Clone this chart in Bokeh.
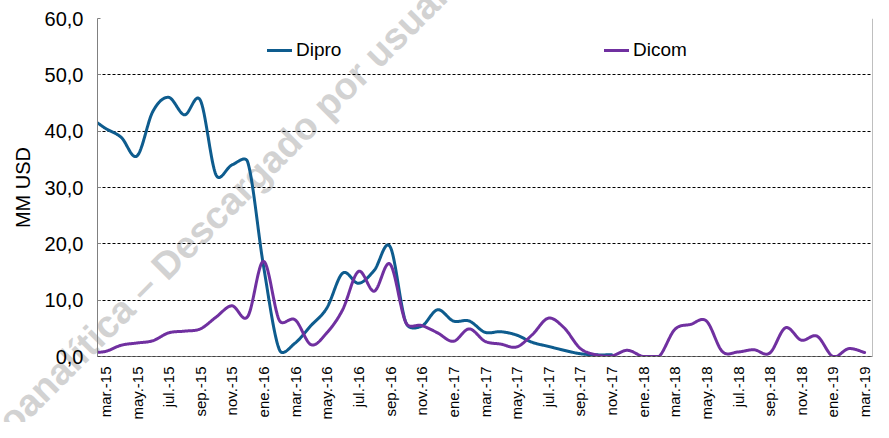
import math
from bokeh.plotting import figure
from bokeh.layouts import column
from bokeh.models import Range1d, FixedTicker, Legend, LegendItem, Span, Div
from bokeh.embed import file_html
from bokeh.resources import INLINE

# ---- data (monthly, feb-15 .. mar-19; feb-15 lies just left of the visible axis) ----
months = ["feb.-15",
          "mar.-15", "abr.-15", "may.-15", "jun.-15", "jul.-15", "ago.-15", "sep.-15", "oct.-15", "nov.-15", "dic.-15",
          "ene.-16", "feb.-16", "mar.-16", "abr.-16", "may.-16", "jun.-16", "jul.-16", "ago.-16", "sep.-16", "oct.-16", "nov.-16", "dic.-16",
          "ene.-17", "feb.-17", "mar.-17", "abr.-17", "may.-17", "jun.-17", "jul.-17", "ago.-17", "sep.-17", "oct.-17", "nov.-17", "dic.-17",
          "ene.-18", "feb.-18", "mar.-18", "abr.-18", "may.-18", "jun.-18", "jul.-18", "ago.-18", "sep.-18", "oct.-18", "nov.-18", "dic.-18",
          "ene.-19", "feb.-19", "mar.-19"]

dipro = [42.5,
         40.5, 38.9, 35.6, 43.5, 46.0, 42.9, 45.5, 32.2, 34.0, 34.5,
         16.0, 1.2, 2.4, 5.5, 8.6, 14.8, 13.0, 15.3, 19.5, 6.0, 5.4, 8.3,
         6.3, 6.3, 4.3, 4.4, 3.8, 2.5, 1.8, 1.1, 0.5, 0.3, 0.3]

dicom = [0.7,
         0.9, 2.0, 2.4, 2.8, 4.2, 4.5, 4.9, 7.0, 9.0, 7.1,
         16.9, 6.4, 6.5, 2.1, 4.2, 8.3, 15.1, 11.6, 16.4, 6.0, 5.5, 4.2,
         2.7, 4.9, 2.7, 2.2, 1.7, 3.9, 6.8, 5.1, 1.5, 0.3, 0.1, 1.1,
         0.0, 0.0, 4.8, 5.7, 6.3, 0.9, 0.8, 1.2, 0.6, 5.1, 2.9, 3.6,
         0.0, 1.4, 0.7]

tick_labels = months[1::2]          # mar.-15, may.-15, ... mar.-19
y_ticks = [0, 10, 20, 30, 40, 50, 60]
y_labels = ["0,0", "10,0", "20,0", "30,0", "40,0", "50,0", "60,0"]
watermark = "Ecoanalítica – Descargado por usuario"

DIPRO_COLOR = "#0E5C8E"
DICOM_COLOR = "#7030A0"
FONT = "Liberation Sans"

X0, X1, Y0, Y1 = -0.5, 48.5, 0, 60
W, H = 873, 422
LEFT, RIGHT, TOP, BOTTOM = 97, 1, 18, 65
SX = (W - LEFT - RIGHT) / (X1 - X0)      # px per x unit
SY = (H - TOP - BOTTOM) / (Y1 - Y0)      # px per y unit


def smooth(xs, ys, n=30):
    """Excel-like smoothed line: cubic Bezier, tangent (P2-P0)/6 limited to half the segment."""
    P = [(x * SX, y * SY) for x, y in zip(xs, ys)]
    m = len(P)
    ox, oy = [], []

    def dist(a, b):
        return math.hypot(a[0] - b[0], a[1] - b[1])

    for k in range(m - 1):
        p0, p1, p2, p3 = P[max(k - 1, 0)], P[k], P[k + 1], P[min(k + 2, m - 1)]
        d12 = dist(p1, p2)
        d02 = dist(p0, p2)
        d13 = dist(p1, p3)
        f1 = 1 / 6.0
        f2 = 1 / 6.0
        if d02 / 6.0 > d12 / 2.0 and d02 > 0:
            f1 = d12 / (2.0 * d02)
        if d13 / 6.0 > d12 / 2.0 and d13 > 0:
            f2 = d12 / (2.0 * d13)
        c1 = (p1[0] + (p2[0] - p0[0]) * f1, p1[1] + (p2[1] - p0[1]) * f1)
        c2 = (p2[0] - (p3[0] - p1[0]) * f2, p2[1] - (p3[1] - p1[1]) * f2)
        for j in range(n + (1 if k == m - 2 else 0)):
            t = j / n
            a = (1 - t) ** 3
            b = 3 * (1 - t) ** 2 * t
            c = 3 * (1 - t) * t ** 2
            d = t ** 3
            x = (a * p1[0] + b * c1[0] + c * c2[0] + d * p2[0]) / SX
            y = (a * p1[1] + b * c1[1] + c * c2[1] + d * p2[1]) / SY
            if x >= X0:
                ox.append(x)
                oy.append(max(y, Y0))
    return ox, oy


idx = list(range(-1, len(months) - 1))   # feb.-15 -> -1, mar.-15 -> 0

p = figure(width=W, height=H, output_backend="svg", toolbar_location=None,
           x_range=Range1d(X0, X1), y_range=Range1d(Y0, Y1),
           min_border_left=LEFT, min_border_right=RIGHT, min_border_top=TOP, min_border_bottom=BOTTOM)
p.outline_line_color = None
p.background_fill_alpha = 0      # transparent so the watermark behind shows through
p.border_fill_alpha = 0

# grid
p.xgrid.visible = False
p.ygrid.ticker = FixedTicker(ticks=y_ticks)
p.ygrid.grid_line_color = "black"
p.ygrid.grid_line_dash = "3 2"
p.ygrid.grid_line_width = 1

# right border and dashed zero line
p.add_layout(Span(location=X1, dimension="height", line_color="#808080", line_width=1))
p.add_layout(Span(location=0, dimension="width", line_color="black", line_dash="3 2", line_width=1))

# lines
dx, dy = smooth(idx[:len(dipro)], dipro)
cx, cy = smooth(idx[:len(dicom)], dicom)
r1 = p.line(dx, dy, line_color=DIPRO_COLOR, line_width=3, line_join="round", line_cap="round")
r2 = p.line(cx, cy, line_color=DICOM_COLOR, line_width=3, line_join="round", line_cap="round")

# x axis
xa = p.xaxis[0]
xa.ticker = FixedTicker(ticks=list(range(0, 49, 2)))
xa.major_label_overrides = {i * 2: lab for i, lab in enumerate(tick_labels)}
xa.major_label_orientation = math.pi / 2
xa.major_tick_in = 0
xa.major_tick_out = 0
xa.minor_tick_line_color = None
xa.axis_line_color = "#808080"
xa.major_label_standoff = 10
xa.major_label_text_font = FONT
xa.major_label_text_font_size = "15px"
xa.major_label_text_color = "black"

# y axis
ya = p.yaxis[0]
ya.ticker = FixedTicker(ticks=y_ticks)
ya.major_label_overrides = {t: l for t, l in zip(y_ticks, y_labels)}
ya.major_tick_in = 3
ya.major_tick_out = 0
ya.major_tick_line_color = "#808080"
ya.minor_tick_line_color = None
ya.axis_line_color = "#808080"
ya.major_label_standoff = 14
ya.major_label_text_font = FONT
ya.major_label_text_font_size = "20px"
ya.major_label_text_color = "black"
ya.axis_label = "MM USD"
ya.axis_label_text_font = FONT
ya.axis_label_text_font_size = "20px"
ya.axis_label_text_font_style = "normal"
ya.axis_label_text_color = "black"
ya.axis_label_standoff = 8

# legends
for rend, name, loc in [(r1, "Dipro", (170, 295)), (r2, "Dicom", (507, 295))]:
    lg = Legend(items=[LegendItem(label=name, renderers=[rend])], location=loc,
                orientation="horizontal", border_line_color=None, background_fill_alpha=0,
                padding=0, margin=0, glyph_width=25, label_standoff=4,
                label_text_font=FONT, label_text_font_size="19px", label_text_color="black")
    p.add_layout(lg)

# watermark: real text behind the (transparent) plot canvas, clipped to the canvas area
wm_html = (
    f'<div style="position:absolute;left:0;top:0;width:{W}px;height:{H}px;overflow:hidden;'
    f'pointer-events:none;">'
    f'<span style="position:absolute;left:-42px;top:446px;transform-origin:0 0;'
    f'transform:rotate(-45deg);font-family:\'{FONT}\';font-weight:bold;font-size:38px;'
    f'line-height:38px;color:#d2d2d2;white-space:nowrap;">{watermark}</span></div>'
)
wm = Div(text=wm_html, width=W, height=0, margin=(0, 0, 0, 0),
         styles={"overflow": "visible", "position": "relative"})

page = column(wm, p, spacing=0)
open("out.html", "w").write(file_html(page, INLINE))
